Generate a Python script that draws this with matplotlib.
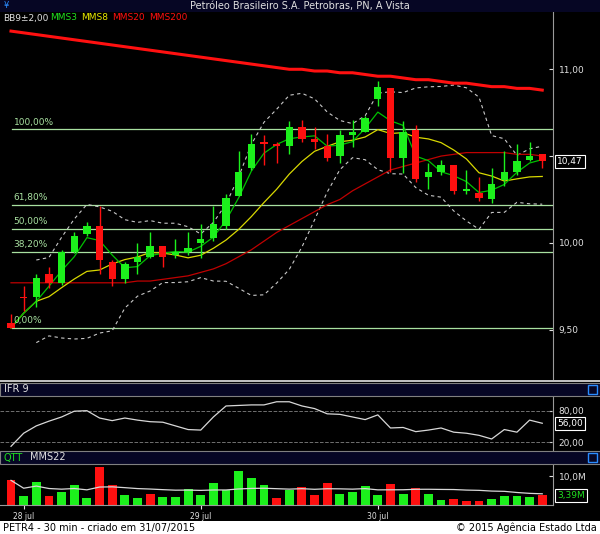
import matplotlib.pyplot as plt
from matplotlib.patches import Rectangle
import numpy as np
import pandas as pd

W, H = 600, 534

opens = [9.54, 9.69, 9.69, 9.82, 9.77, 9.95, 10.05, 10.10, 9.89, 9.79, 9.89, 9.92, 9.98, 9.93, 9.95,
         10.00, 10.03, 10.10, 10.27, 10.43, 10.58, 10.57, 10.56, 10.67, 10.60, 10.56, 10.50, 10.62,
         10.64, 10.83, 10.89, 10.49, 10.65, 10.38, 10.41, 10.45, 10.30, 10.29, 10.25, 10.36, 10.41,
         10.48, 10.51]
closes = [9.51, 9.68, 9.80, 9.77, 9.95, 10.04, 10.10, 9.90, 9.79, 9.88, 9.92, 9.98, 9.92, 9.95, 9.97,
          10.02, 10.11, 10.26, 10.41, 10.57, 10.57, 10.56, 10.67, 10.60, 10.58, 10.49, 10.62, 10.64,
          10.72, 10.90, 10.49, 10.64, 10.37, 10.41, 10.45, 10.30, 10.31, 10.26, 10.34, 10.41, 10.47,
          10.50, 10.47]
highs = [9.59, 9.75, 9.82, 9.86, 9.96, 10.06, 10.12, 10.21, 9.90, 9.89, 10.00, 10.06, 9.98, 10.02, 10.06,
         10.11, 10.21, 10.28, 10.53, 10.63, 10.62, 10.58, 10.70, 10.71, 10.67, 10.63, 10.65, 10.71,
         10.73, 10.93, 10.89, 10.70, 10.68, 10.46, 10.48, 10.45, 10.42, 10.38, 10.43, 10.53, 10.57,
         10.58, 10.51]
lows = [9.51, 9.61, 9.63, 9.74, 9.76, 9.94, 10.04, 9.82, 9.75, 9.77, 9.82, 9.91, 9.86, 9.91, 9.93,
        9.91, 10.01, 10.08, 10.27, 10.42, 10.45, 10.46, 10.51, 10.58, 10.54, 10.47, 10.46, 10.55,
        10.64, 10.79, 10.41, 10.40, 10.35, 10.31, 10.39, 10.28, 10.28, 10.24, 10.23, 10.33, 10.39,
        10.47, 10.43]
mms20 = [9.77] * 10 + [9.78, 9.78, 9.79, 9.80, 9.81, 9.83, 9.85, 9.88, 9.92, 9.96, 10.01, 10.06,
                       10.10, 10.14, 10.18, 10.22, 10.25, 10.30, 10.34, 10.38, 10.42, 10.44, 10.46,
                       10.48, 10.50, 10.51, 10.52, 10.52, 10.52, 10.52, 10.51, 10.51, 10.50]
mms200 = [11.22, 11.21, 11.20, 11.19, 11.18, 11.17, 11.16, 11.15, 11.14, 11.13, 11.12, 11.11, 11.10,
          11.09, 11.08, 11.07, 11.06, 11.05, 11.04, 11.03, 11.02, 11.01, 11.00, 11.00, 10.99, 10.99,
          10.98, 10.98, 10.97, 10.96, 10.96, 10.95, 10.94, 10.94, 10.93, 10.92, 10.92, 10.91, 10.90,
          10.90, 10.89, 10.89, 10.88]
ifr = [12, 37, 51, 60, 68, 79, 80, 66, 61, 66, 62, 59, 58, 51, 44, 43, 68, 89, 90, 91, 91, 97, 97,
       89, 84, 74, 73, 68, 63, 72, 47, 48, 40, 43, 47, 39, 37, 33, 26, 44, 39, 62, 56]
volume = [8.6, 3.1, 8.1, 3.2, 4.6, 6.9, 2.5, 13.1, 6.9, 3.5, 2.5, 3.8, 2.8, 2.8, 5.6, 3.5, 7.5, 5.3,
          12.0, 9.4, 6.9, 2.6, 5.2, 6.4, 3.5, 7.5, 3.7, 4.6, 6.7, 3.5, 7.2, 4.0, 6.0, 4.0, 1.6, 2.0,
          1.4, 1.4, 2.0, 3.2, 3.2, 2.8, 3.39]
vol_up = [0, 1, 1, 0, 1, 1, 1, 0, 0, 1, 1, 0, 1, 1, 1, 1, 1, 1, 1, 1, 1, 0, 1, 0, 0, 0, 1, 1, 1, 1,
          0, 1, 0, 1, 1, 0, 0, 0, 1, 1, 1, 1, 0]
fib_low, fib_high = 9.51, 10.655
fib_pcts = [0.0, 0.382, 0.5, 0.618, 1.0]
fib_labels = ['0,00%', '38,20%', '50,00%', '61,80%', '100,00%']
day_pos = [1, 15, 29]
day_labels = ['28 jul', '29 jul', '30 jul']

GREEN = '#1cf01c'
RED = '#ff1010'
NAVY = '#060624'
GRID = '#9a9a9a'
TXT = '#e0e0e0'

x = np.arange(len(closes))
s = pd.Series(closes)
mms3 = s.rolling(3, min_periods=1).mean()
mms8 = s.rolling(8, min_periods=1).mean()
bbm = s.rolling(9, min_periods=3).mean()
bbs = s.rolling(9, min_periods=3).std(ddof=0)
vma = pd.Series(volume).rolling(22, min_periods=1).mean()

fig = plt.figure(figsize=(6, 5.34), dpi=100, facecolor='black')


def px_axes(x0, y0, x1, y1):
    return fig.add_axes([x0 / W, 1 - y1 / H, (x1 - x0) / W, (y1 - y0) / H])


def header(y0, y1, text_parts):
    fig.patches.append(Rectangle((0, 1 - y1 / H), 1, (y1 - y0) / H, transform=fig.transFigure,
                                 facecolor=NAVY, edgecolor='#808080', lw=0.8))
    for t, c, xp in text_parts:
        fig.text(xp / W, 1 - (y0 + y1) / 2 / H, t, color=c, fontsize=7, va='center')
    fig.patches.append(Rectangle((588 / W, 1 - (y1 - 2) / H), 9 / W, (y1 - y0 - 4) / H,
                                 transform=fig.transFigure, facecolor='none', edgecolor='#2a8cff', lw=1))


def style(ax):
    ax.set_facecolor('black')
    for sp in ax.spines.values():
        sp.set_visible(False)
    ax.spines['right'].set_visible(True)
    ax.spines['right'].set_color(GRID)
    ax.yaxis.tick_right()
    ax.tick_params(colors=TXT, labelsize=6.5, length=3, direction='in', pad=4)
    ax.set_xticks([])
    ax.set_xlim(-0.87, 42.85)


# top title bar
fig.patches.append(Rectangle((0, 1 - 12 / H), 1, 12 / H, transform=fig.transFigure,
                             facecolor=NAVY, edgecolor='none'))
fig.text(0.5, 1 - 6 / H, 'Petróleo Brasileiro S.A. Petrobras, PN, A Vista', color=TXT,
         fontsize=7, ha='center', va='center')
fig.text(4 / W, 1 - 6 / H, '¥', color='#2a8cff', fontsize=6, va='center')

# main price panel
ax = px_axes(0, 12, 553, 380)
style(ax)
ax.set_ylim(9.21, 11.33)
ax.set_yticks([9.5, 10.0, 10.5, 11.0])
ax.set_yticklabels(['9,50', '10,00', '', '11,00'])
for p, lab in zip(fib_pcts, fib_labels):
    lv = fib_low + p * (fib_high - fib_low)
    ax.plot([0.1, 42.85], [lv, lv], color='#a8e0a0', lw=0.9)
    ax.text(0.2, lv + 0.015, lab, color='#a8e0a0', fontsize=6.5, va='bottom')
ax.plot(x, bbm + 2 * bbs, color='#c8c8c8', ls='--', lw=0.8, dashes=(3, 3))
ax.plot(x, bbm - 2 * bbs, color='#c8c8c8', ls='--', lw=0.8, dashes=(3, 3))
ax.plot(x, mms200, color=RED, lw=2.2)
ax.plot(x, mms20, color='#c00000', lw=0.9)
ax.plot(x, mms8, color='#d8d800', lw=0.9)
ax.plot(x, mms3, color='#00c000', lw=0.9)
cols = [GREEN if c >= o else RED for o, c in zip(opens, closes)]
ax.vlines(x, lows, highs, colors=cols, lw=1)
bodies = [max(abs(c - o), 0.006) for o, c in zip(opens, closes)]
ax.bar(x, bodies, bottom=np.minimum(opens, closes), width=0.58, color=cols, zorder=3)
ax.text(43.15, closes[-1], '10,47', color='white', fontsize=6.5, va='center', ha='left',
        bbox=dict(facecolor='black', edgecolor='white', boxstyle='square,pad=0.25', lw=0.8),
        clip_on=False, zorder=5)
for t, c, xp in [('BB9±2,00', TXT, 3), ('MMS3', '#20e020', 50), ('MMS8', '#e8e800', 81),
                 ('MMS20', RED, 112), ('MMS200', RED, 149)]:
    fig.text(xp / W, 1 - 18 / H, t, color=c, fontsize=6.5, va='center')
fig.patches.append(Rectangle((0, 1 - 382 / H), 1, 2 / H, transform=fig.transFigure,
                             facecolor='#c0c0c0', edgecolor='none'))

# IFR panel
header(383, 396, [('IFR 9', TXT, 4)])
ax2 = px_axes(0, 396, 553, 450)
style(ax2)
ax2.set_ylim(5, 108)
ax2.set_yticks([20, 80])
ax2.set_yticklabels(['20,00', '80,00'])
for lv in (20, 80):
    ax2.axhline(lv, color='#707070', ls='--', lw=0.7)
ax2.plot(x, ifr, color='#d8d8d8', lw=0.9)
ax2.text(43.15, ifr[-1], '56,00', color='white', fontsize=6.5, va='center',
         bbox=dict(facecolor='black', edgecolor='white', boxstyle='square,pad=0.25', lw=0.8),
         clip_on=False)

# volume panel
header(451, 464, [('QTT', '#20e020', 4), ('MMS22', TXT, 30)])
ax3 = px_axes(0, 464, 553, 505)
style(ax3)
ax3.set_ylim(0, 14.3)
ax3.set_yticks([10])
ax3.set_yticklabels(['10,0M'])
vcols = [GREEN if u else RED for u in vol_up]
ax3.bar(x, volume, width=0.7, color=vcols)
ax3.plot(x, vma, color='#d8d8d8', lw=0.9)
ax3.spines['bottom'].set_visible(True)
ax3.spines['bottom'].set_color(GRID)
ax3.text(43.15, volume[-1], '3,39M', color='#20e020', fontsize=6.5, va='center',
         bbox=dict(facecolor='black', edgecolor='white', boxstyle='square,pad=0.25', lw=0.8),
         clip_on=False)
ax3.set_xticks(day_pos)
ax3.set_xticklabels(day_labels)
ax3.tick_params(axis='x', colors=TXT, labelsize=5.5, length=3, direction='out', pad=2)

# footer
fig.patches.append(Rectangle((0, 0), 1, 13 / H, transform=fig.transFigure,
                             facecolor='white', edgecolor='none'))
fig.text(3 / W, 6 / H, 'PETR4 - 30 min - criado em 31/07/2015', fontsize=7, va='center')
fig.text(597 / W, 6 / H, '© 2015 Agência Estado Ltda', fontsize=7, va='center', ha='right')

fig.savefig('out.png', dpi=100, facecolor='black')
